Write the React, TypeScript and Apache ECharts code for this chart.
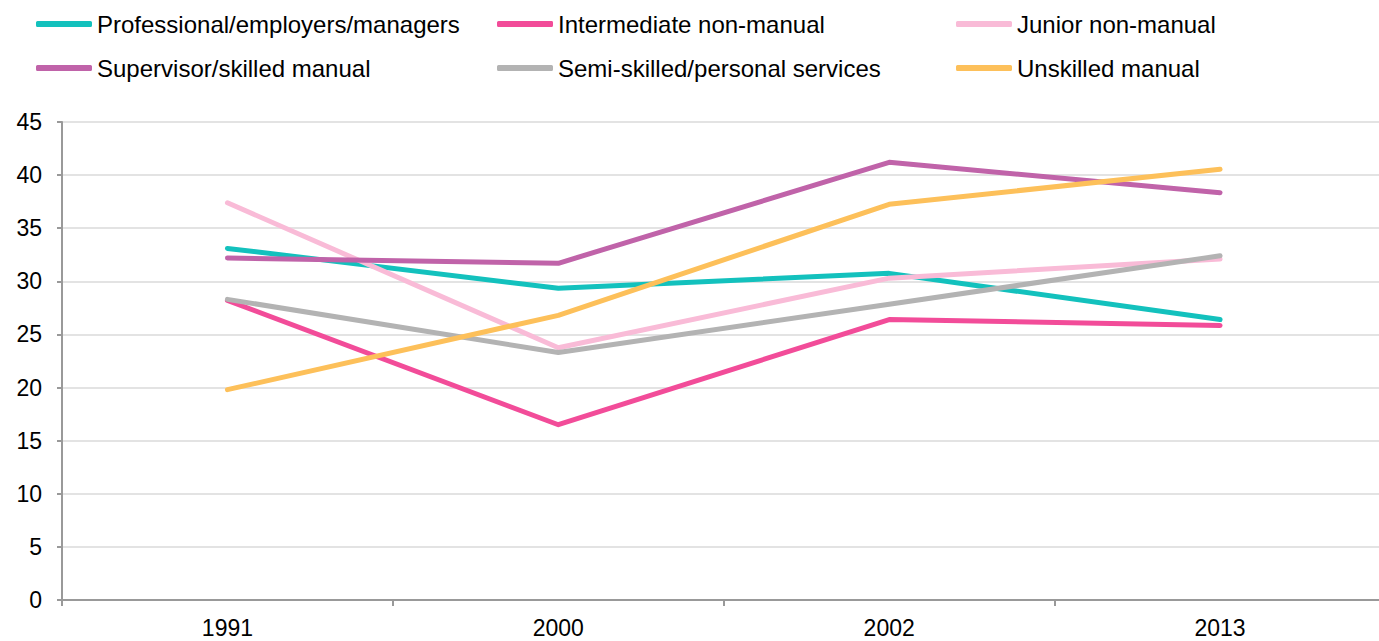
import React, { useEffect, useRef } from "react";
import * as echarts from "echarts";

const categories = ["1991", "2000", "2002", "2013"];
const seriesNames = [
  "Professional/employers/managers",
  "Intermediate non-manual",
  "Junior non-manual",
  "Supervisor/skilled manual",
  "Semi-skilled/personal services",
  "Unskilled manual",
];
const professional = [33.1, 29.35, 30.75, 26.4];
const intermediate = [28.2, 16.5, 26.4, 25.85];
const junior = [37.4, 23.75, 30.3, 32.1];
const supervisor = [32.2, 31.7, 41.2, 38.35];
const semiSkilled = [28.3, 23.3, 27.85, 32.4];
const unskilled = [19.8, 26.8, 37.25, 40.55];
const colors = ["#13C1BD", "#F24C99", "#F9BBD7", "#C063A9", "#B3B3B3", "#FDC05A"];
const yTicks = { min: 0, max: 45, interval: 5 };

const allData = [professional, intermediate, junior, supervisor, semiSkilled, unskilled];

export default function App() {
  const ref = useRef<HTMLDivElement>(null);
  useEffect(() => {
    if (!ref.current) return;
    const chart = echarts.init(ref.current, null, { renderer: "svg" });
    const font = "Liberation Sans, Arial, sans-serif";
    const legendCols = [
      { left: 36, names: [seriesNames[0], seriesNames[3]] },
      { left: 497, names: [seriesNames[1], seriesNames[4]] },
      { left: 956, names: [seriesNames[2], seriesNames[5]] },
    ];
    chart.setOption({
      animation: false,
      color: colors,
      legend: legendCols.map((c) => ({
        data: c.names,
        orient: "vertical",
        left: c.left,
        top: 12,
        itemWidth: 56,
        itemHeight: 6,
        itemGap: 20,
        icon: "roundRect",
        padding: 0,
        textStyle: { fontFamily: font, fontSize: 24, color: "#000" },
      })),
      grid: {
        left: 62,
        right: -6.5,
        top: 122,
        bottom: 41,
        containLabel: false,
        outerBoundsMode: "none",
      },
      xAxis: {
        type: "category",
        data: categories,
        boundaryGap: true,
        axisLine: { lineStyle: { color: "#999", width: 2 } },
        axisTick: { show: true, length: 6, lineStyle: { color: "#999", width: 2 } },
        axisLabel: { fontFamily: font, fontSize: 23, color: "#000", margin: 16 },
      },
      yAxis: {
        type: "value",
        min: yTicks.min,
        max: yTicks.max,
        interval: yTicks.interval,
        axisLine: { show: true, lineStyle: { color: "#999", width: 2 } },
        axisTick: { show: true, length: 5, lineStyle: { color: "#999", width: 2 } },
        axisLabel: { fontFamily: font, fontSize: 23, color: "#000", margin: 20 },
        splitLine: { lineStyle: { color: "#E3E3E3", width: 2 } },
      },
      series: seriesNames.map((name, i) => ({
        name,
        type: "line",
        data: allData[i],
        symbol: "none",
        lineStyle: { width: 5, color: colors[i], cap: "round", join: "round" },
        itemStyle: { color: colors[i] },
      })),
    });
    return () => chart.dispose();
  }, []);
  return (
    <div
      ref={ref}
      style={{ position: "fixed", left: 0, top: 0, width: 1379, height: 641, background: "#fff" }}
    />
  );
}
